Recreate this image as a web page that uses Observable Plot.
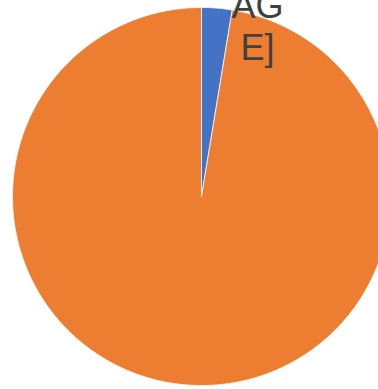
<!DOCTYPE html>
<html>
<head>
<meta charset="utf-8">
<script src="https://cdn.jsdelivr.net/npm/d3@7"></script>
<script src="https://cdn.jsdelivr.net/npm/@observablehq/plot@0.6"></script>
<style>
  html, body { margin: 0; padding: 0; background: #fff; overflow: hidden; }
  #chart { width: 378px; height: 389px; overflow: hidden; }
</style>
</head>
<body>
<div id="chart"></div>
<script>
const categories = ["Category 1", "Category 2"];
const values = [2.6, 97.4];
const colors = ["#4472C4", "#ED7D31"];
const labelText = "[PERCENTAGE]";
const labelLines = ["[PERCENT", "AG", "E]"];

const pie = d3.pie().sort(null).value(d => d.value).startAngle(0).endAngle(2 * Math.PI);
const arcs = pie(categories.map((c, i) => ({category: c, value: values[i]})));

const pts = [];
arcs.forEach(a => {
  const c = a.data.category;
  pts.push({category: c, x: 0, y: 0});
  const n = Math.max(2, Math.ceil((a.endAngle - a.startAngle) / 0.01));
  for (let k = 0; k <= n; k++) {
    const t = a.startAngle + (a.endAngle - a.startAngle) * k / n;
    pts.push({category: c, x: Math.sin(t), y: Math.cos(t)});
  }
  pts.push({category: c, x: 0, y: 0});
});

// label for the small slice (Excel-style wrapped label, partly outside view)
const labels = [{x: 0.2963, y: 0.72, text: labelLines.join("\n")}];

const cx = 201, cy = 196, R = 189;
const chart = Plot.plot({
  width: 378,
  height: 389,
  margin: 0,
  style: {background: "#fff", overflow: "hidden"},
  x: {domain: [-1, 1], range: [cx - R, cx + R], axis: null},
  y: {domain: [-1, 1], range: [cy + R, cy - R], axis: null},
  color: {domain: categories, range: colors},
  marks: [
    Plot.line(pts, {x: "x", y: "y", z: "category", fill: "category", stroke: "#fff", strokeWidth: 0.75, curve: "linear"}),
    Plot.text(labels, {x: "x", y: "y", text: "text", lineAnchor: "bottom", lineHeight: 1.19, textAnchor: "middle",
      fontSize: 36, fill: "#404040", fontFamily: "Liberation Sans, Arial, sans-serif"})
  ]
});
document.getElementById("chart").appendChild(chart);
</script>
</body>
</html>
